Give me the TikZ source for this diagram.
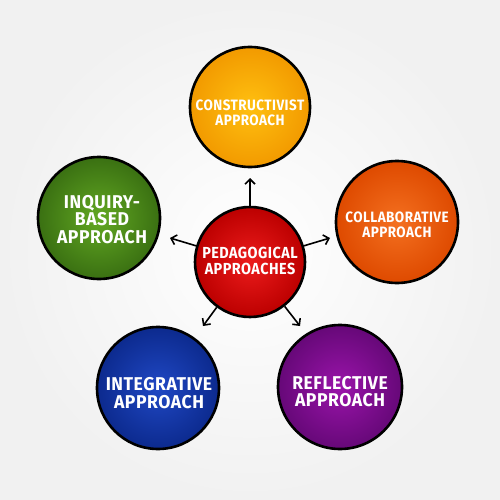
\documentclass[tikz,border=0pt]{standalone}
\usepackage{fontspec}
\newfontfamily\handA[FakeStretch=0.9,LetterSpace=3]{Fira Sans}
\newfontfamily\handB[FakeStretch=0.95,LetterSpace=3]{Fira Sans}
\usetikzlibrary{arrows.meta}
\definecolor{redIn}{HTML}{EC1C1C}
\definecolor{redOut}{HTML}{BC0000}
\definecolor{orIn}{HTML}{FFC010}
\definecolor{orOut}{HTML}{F29A00}
\definecolor{roIn}{HTML}{F47020}
\definecolor{roOut}{HTML}{DE4A00}
\definecolor{grIn}{HTML}{62A822}
\definecolor{grOut}{HTML}{3A7012}
\definecolor{blIn}{HTML}{2048C4}
\definecolor{blOut}{HTML}{0C2A8E}
\definecolor{puIn}{HTML}{9A14AA}
\definecolor{puOut}{HTML}{660878}
\begin{document}
\begin{tikzpicture}[x=1pt,y=-1pt,
  ball/.style={circle, draw=black, line width=2.6pt, minimum size=#1, inner sep=0pt},
  lbl/.style={text=white, align=center, inner sep=0pt},
  small/.style={font=\handA\bfseries\fontsize{15}{14.5}\selectfont},
  mid/.style={font=\handA\bfseries\fontsize{16}{16}\selectfont},
  big/.style={font=\handB\bfseries\fontsize{18.5}{17.5}\selectfont},
  arr/.style={line width=1.6pt, -{Straight Barb[length=5pt,width=10pt,line width=1.6pt]}}]
\shade[inner color=white, outer color=gray!11] (0,0) rectangle (500,500);
\useasboundingbox (0,0) rectangle (500,500);

\node[ball=110pt, inner color=redIn, outer color=redOut] (c) at (250,262) {};
\node[ball=120pt, inner color=orIn, outer color=orOut] (t) at (250,107) {};
\node[ball=122pt, inner color=roIn, outer color=roOut] (r) at (397,222) {};
\node[ball=122pt, inner color=grIn, outer color=grOut] (l) at (99,218) {};
\node[ball=122pt, inner color=blIn, outer color=blOut] (bl) at (158,388) {};
\node[ball=124pt, inner color=puIn, outer color=puOut] (br) at (340,387) {};

\node[lbl, mid] (cl) at (250,261) {PEDAGOGICAL\\APPROACHES};
\node[lbl, small] (tl) at (250,113) {CONSTRUCTIVIST\\APPROACH};
\node[lbl, small] (rl) at (397,225) {COLLABORATIVE\\APPROACH};
\node[lbl, big] (ll) at (102,219.5) {INQUIRY-\\BASED\\APPROACH};
\node[lbl, big] (bll) at (159,393) {INTEGRATIVE\\APPROACH};
\node[lbl, big] (brl) at (340,391.5) {REFLECTIVE\\APPROACH};

\coordinate (at) at (250,178);
\coordinate (ar) at (330,238);
\coordinate (al) at (170,238);
\coordinate (abl) at (203,326);
\coordinate (abr) at (300,326);
\draw[arr] (c) -- (at);
\draw[arr] (c) -- (ar);
\draw[arr] (c) -- (al);
\draw[arr] (c) -- (abl);
\draw[arr] (c) -- (abr);
\end{tikzpicture}
\end{document}
